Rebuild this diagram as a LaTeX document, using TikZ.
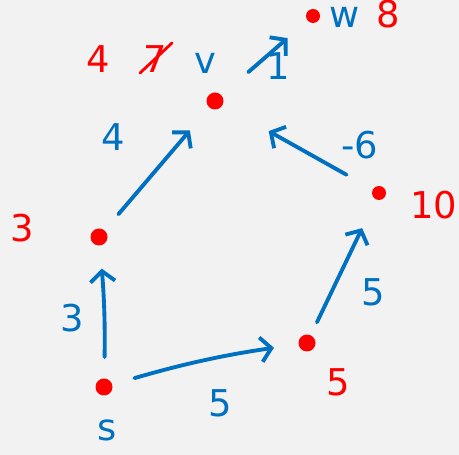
\documentclass[tikz,border=0pt]{standalone}
\usepackage{fontspec}
\setmainfont{DejaVu Sans}
\usetikzlibrary{arrows.meta}
\definecolor{penblue}{HTML}{0070C0}
\definecolor{penred}{HTML}{FF0000}
\definecolor{board}{HTML}{F2F2F2}
\tikzset{
  vert/.style={circle, fill=penred, inner sep=0pt, minimum size=0.34cm},
  edge/.style={penblue, line width=2.2pt, line cap=round,
    -{Straight Barb[length=6pt, width=14pt, line width=2.2pt]}},
  wt/.style={penblue, font=\fontsize{21}{24}\selectfont},
  dist/.style={penred, font=\fontsize{21}{24}\selectfont},
}

\begin{document}
\begin{tikzpicture}[x=0.02cm, y=-0.02cm]
\fill[board] (0,0) rectangle (459,455);
\useasboundingbox (0,0) rectangle (459,455);
% vertices
\node[vert] (s) at (104,387) {};
\node[vert] (a) at (99,237) {};
\node[vert] (v) at (215,101) {};
\node[vert, minimum size=0.28cm] (w) at (313,16) {};
\node[vert] (b) at (307,343) {};
\node[vert, minimum size=0.28cm] (c) at (379,193) {};
% edges
\draw[edge, shorten <=12pt, shorten >=13pt] (s) to[bend right=3] (a);
\draw[edge, shorten <=12pt, shorten >=17pt] (a) -- (v);
\draw[edge, shorten <=20pt, shorten >=15pt] (v) -- (w);
\draw[edge, shorten <=17pt, shorten >=30pt] (c) -- (v);
\draw[edge, shorten <=8pt, shorten >=18pt] (b) -- (c);
\draw[edge, shorten <=13pt, shorten >=14pt] (s) to[bend left=4] (b);
% weights
\node[wt] (ws) at (107,430) {s};
\node[wt] (w3) at (72,318) {3};
\node[wt] (w4) at (113,137) {4};
\node[wt] (wv) at (205,63) {v};
\node[wt] (w1) at (278,66) {1};
\node[wt] (ww) at (345,17) {w};
\node[wt] (wm6) at (360,145) {-6};
\node[wt] (w5c) at (373,292) {5};
\node[wt] (w5b) at (220,403) {5};
% distances
\node[dist] (d3) at (22,228) {3};
\node[dist] (dv) at (98,59) {4};
\node[dist] (dv7) at (155,59) {7};
\draw[penred, line width=1.6pt, line cap=round] (140,73) -- (172,43);
\node[dist] (dw) at (388,14) {8};
\node[dist] (dc) at (434,205) {10};
\node[dist] (db) at (338,382) {5};
\end{tikzpicture}
\end{document}
